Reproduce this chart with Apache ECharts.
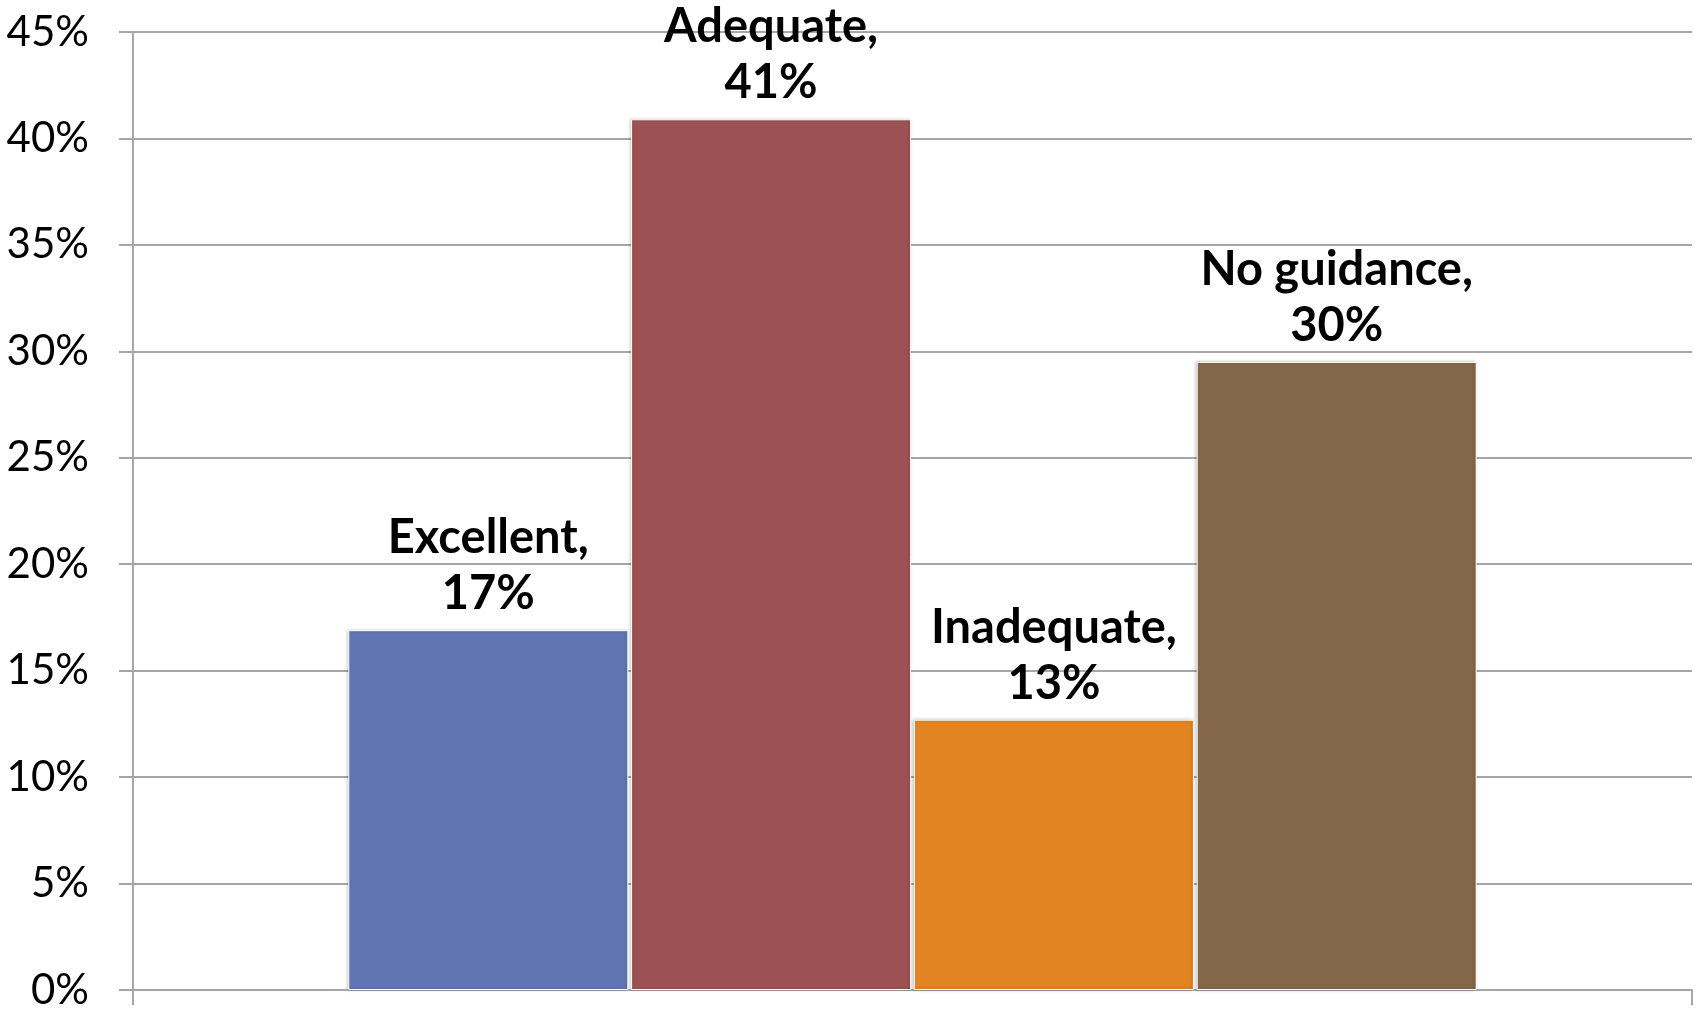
<!DOCTYPE html>
<html>
<head>
<meta charset="utf-8">
<title>Guidance rating</title>
<script src="https://cdn.jsdelivr.net/npm/echarts@6/dist/echarts.min.js"></script>
<style>
  html, body { margin: 0; padding: 0; background: #fff; }
  #chart { width: 1696px; height: 1011px; }
</style>
</head>
<body>
<div id="chart"></div>
<script>
// data
var categories = ['']
var seriesNames = ['Excellent', 'Adequate', 'Inadequate', 'No guidance']
var seriesValues = [16.9, 40.9, 12.7, 29.5]
var seriesColors = ['#6075b2', '#9c5252', '#e38423', '#856849']
var yTicks = { min: 0, max: 45, interval: 5 }

var fontName = 'Lato'
var gridColor = '#a6a6a6'

var series = seriesNames.map(function (name, i) {
  return {
    name: name,
    type: 'bar',
    data: [seriesValues[i]],
    barWidth: 280,
    barGap: '1%',
    itemStyle: {
      color: seriesColors[i],
      borderColor: '#ffffff',
      borderWidth: 1,
      shadowColor: 'rgba(0,0,0,0.25)',
      shadowBlur: 3,
      shadowOffsetX: -1
    },
    label: {
      show: true,
      position: 'top',
      distance: 8,
      fontFamily: fontName,
      fontWeight: 'bold',
      fontSize: 47,
      lineHeight: 56,
      color: '#000',
      formatter: function (p) {
        return p.seriesName + ',\n' + Math.round(p.value) + '%'
      }
    }
  }
})

var option = {
  animation: false,
  backgroundColor: '#fff',
  grid: {
    left: 133,
    right: 4,
    top: 32,
    bottom: 21
  },
  xAxis: {
    type: 'category',
    data: categories,
    axisLine: { lineStyle: { color: gridColor, width: 2 } },
    axisTick: { show: true, length: 15, lineStyle: { color: gridColor, width: 2 } },
    axisLabel: { show: false }
  },
  yAxis: {
    type: 'value',
    min: yTicks.min,
    max: yTicks.max,
    interval: yTicks.interval,
    axisLine: { show: true, lineStyle: { color: gridColor, width: 2 } },
    axisTick: { show: true, length: 14, lineStyle: { color: gridColor, width: 2 } },
    axisLabel: {
      formatter: '{value}%',
      margin: 44,
      fontFamily: fontName,
      fontSize: 42,
      color: '#000'
    },
    splitLine: { lineStyle: { color: gridColor, width: 2 } }
  },
  series: series
}

var myChart = echarts.init(document.getElementById('chart'))
myChart.setOption(option)
</script>
</body>
</html>
